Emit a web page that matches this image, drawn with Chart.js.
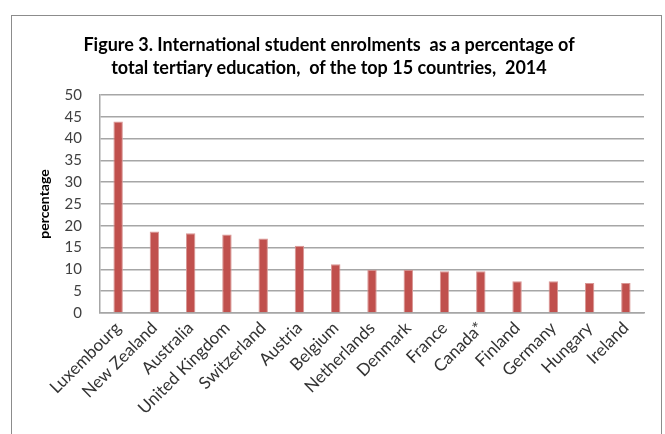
<!DOCTYPE html>
<html>
<head>
<meta charset="utf-8">
<script src="https://cdn.jsdelivr.net/npm/chart.js@4.4.1/dist/chart.umd.min.js"></script>
<style>
  html, body { margin: 0; padding: 0; background: #fff; }
  #wrap { position: relative; width: 665px; height: 434px; }
  #frame { position: absolute; left: 11px; top: 15px; width: 651px; height: 440px; border: 1px solid #8c8c8c; box-sizing: border-box; }
  #title { position: absolute; left: 0; top: 33px; width: 658px; text-align: center;
    font: bold 18px Lato, sans-serif; line-height: 23px; color: #000; white-space: pre; }
  canvas { position: absolute; left: 0; top: 0; }
</style>
</head>
<body>
<div id="wrap">
  <div id="frame"></div>
  <canvas id="chart" width="665" height="434"></canvas>
  <div id="title"></div>
</div>
<script>
const countries = ['Luxembourg', 'New Zealand', 'Australia', 'United Kingdom', 'Switzerland', 'Austria',
    'Belgium', 'Netherlands', 'Denmark', 'France', 'Canada*', 'Finland', 'Germany', 'Hungary', 'Ireland'];
const shares = [43.9, 18.7, 18.3, 18.0, 17.1, 15.4, 11.2, 9.9, 9.9, 9.6, 9.6, 7.3, 7.3, 6.9, 6.9];
const titleLines = ['Figure 3. International student enrolments  as a percentage of',
    'total tertiary education,  of the top 15 countries,  2014'];

document.addEventListener('DOMContentLoaded', function () {
    document.getElementById('title').textContent = titleLines.join('\n');
    const ctx = document.getElementById('chart').getContext('2d');

    new Chart(ctx, {
        type: 'bar',
        data: {
            labels: countries,
            datasets: [{
                data: shares,
                backgroundColor: '#c0504d',
                borderColor: '#d99694',
                borderWidth: 1,
                borderSkipped: 'bottom',
                categoryPercentage: 1,
                barPercentage: 0.26
            }]
        },
        options: {
            responsive: false,
            animation: false,
            layout: { padding: { left: 36, right: 21, top: 95, bottom: 0 } },
            plugins: {
                legend: { display: false },
                tooltip: { enabled: false }
            },
            scales: {
                y: {
                    min: 0,
                    max: 50,
                    ticks: {
                        stepSize: 5,
                        color: '#404040',
                        padding: 18,
                        font: { family: 'Lato', size: 15 }
                    },
                    grid: { color: '#a6a6a6', lineWidth: 1.5, drawTicks: false },
                    border: { color: '#a6a6a6', width: 1.5 },
                    title: {
                        display: true,
                        text: 'percentage',
                        color: '#000',
                        font: { family: 'Lato', size: 14, weight: 'bold' },
                        padding: { top: 0, bottom: 0 }
                    },
                    afterFit: function (scale) { scale.width = 64; }
                },
                x: {
                    ticks: {
                        minRotation: 45,
                        maxRotation: 45,
                        color: '#333333',
                        padding: 5,
                        font: { family: 'Lato', size: 17 }
                    },
                    grid: { display: false, drawTicks: false },
                    border: { color: '#a6a6a6', width: 1.5 },
                    afterFit: function (scale) { scale.height = 121; }
                }
            }
        }
    });
});
</script>
</body>
</html>
